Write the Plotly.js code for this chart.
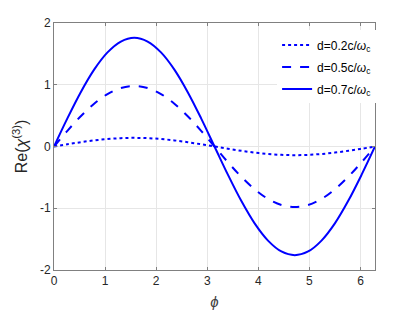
<!DOCTYPE html>
<html><head><meta charset="utf-8">
<script src="https://cdn.plot.ly/plotly-3.0.1.min.js"></script>
<style>body{margin:0;padding:0;background:#fff}#c{width:415px;height:312px}</style>
</head><body><div id="c"></div>
<script>
// phase samples (step pi/12)
const phi = [0,0.2618,0.5236,0.7854,1.0472,1.3090,1.5708,1.8326,2.0944,2.3562,2.6180,2.8798,3.1416,3.4034,3.6652,3.9270,4.1888,4.4506,4.7124,4.9742,5.2360,5.4978,5.7596,6.0214,6.2832];
const d02 = [0,0.036,0.070,0.099,0.121,0.135,0.140,0.135,0.121,0.099,0.070,0.036,0,-0.036,-0.070,-0.099,-0.121,-0.135,-0.140,-0.135,-0.121,-0.099,-0.070,-0.036,0];
const d05 = [0,0.254,0.490,0.693,0.849,0.947,0.980,0.947,0.849,0.693,0.490,0.254,0,-0.254,-0.490,-0.693,-0.849,-0.947,-0.980,-0.947,-0.849,-0.693,-0.490,-0.254,0];
const d07 = [0,0.456,0.880,1.245,1.524,1.700,1.760,1.700,1.524,1.245,0.880,0.456,0,-0.456,-0.880,-1.245,-1.524,-1.700,-1.760,-1.700,-1.524,-1.245,-0.880,-0.456,0];
const names = ['d=0.2c/<i>ω</i><sub>c</sub>','d=0.5c/<i>ω</i><sub>c</sub>','d=0.7c/<i>ω</i><sub>c</sub>'];
const xTicks = [0,1,2,3,4,5,6];
const yTicks = [-2,-1,0,1,2];

const blue = '#0000ff';
const traces = [
  {x:phi,y:d02,name:names[0],legendgroup:'a',mode:'lines',line:{color:blue,width:2,dash:'dot',shape:'spline'}},
  {x:phi,y:d05,name:names[1],legendgroup:'b',mode:'lines',line:{color:blue,width:2,dash:'dash',shape:'spline'}},
  {x:phi,y:d07,name:names[2],legendgroup:'c',mode:'lines',line:{color:blue,width:2,dash:'solid',shape:'spline'}}
];
const axCommon = {showline:true,linecolor:'#808080',linewidth:1,mirror:'ticks',ticks:'inside',ticklen:3,tickcolor:'#808080',
  showgrid:true,gridcolor:'#e6e6e6',gridwidth:1,zeroline:false,tickfont:{family:'Liberation Sans, Arial, sans-serif',size:12,color:'#262626'}};
const layout = {
  width:415,height:312,margin:{l:54,r:40,t:23,b:42},
  paper_bgcolor:'#fff',plot_bgcolor:'#fff',
  font:{family:'Liberation Sans, Arial, sans-serif',size:12,color:'#262626'},
  xaxis:Object.assign({},axCommon,{range:[0,6.2832],tickvals:xTicks,ticktext:xTicks.map(String),
    title:{text:'<i>ϕ</i>',font:{size:15,color:'#404040'},standoff:9}}),
  yaxis:Object.assign({},axCommon,{range:[-2,2],tickvals:yTicks,ticktext:yTicks.map(String),
    title:{text:'Re(<i>χ</i><sup>(3)</sup>)',font:{size:16,color:'#262626'},standoff:8}}),
  showlegend:true,
  legend:{x:0.695,y:0.97,xanchor:'left',yanchor:'top',bgcolor:'rgba(255,255,255,1)',borderwidth:0,
    font:{size:12,color:'#000'},tracegroupgap:3,itemwidth:30}
};
Plotly.newPlot('c',traces,layout,{displayModeBar:false,staticPlot:true});
</script></body></html>
